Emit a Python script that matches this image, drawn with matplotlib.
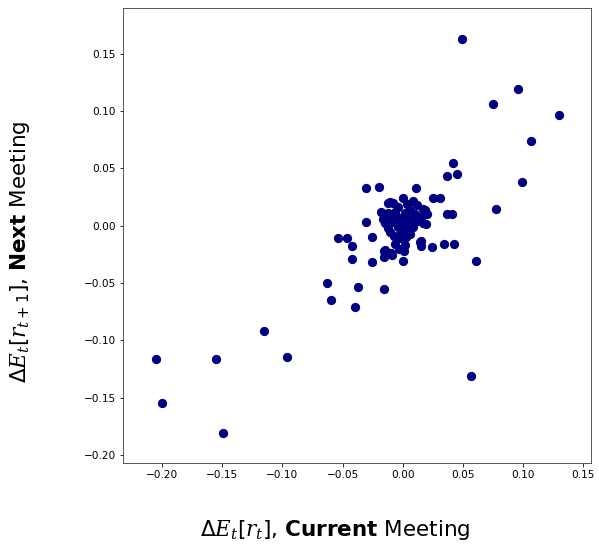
import numpy as np
import matplotlib
matplotlib.use('Agg')
import matplotlib.pyplot as plt

# change in expected rate: current meeting (x) vs next meeting (y)
cur_outer = [0.0496, 0.0962, 0.0754, 0.130, 0.107, 0.0416, 0.0369, 0.0452, 0.0996,
             -0.0305, -0.020, 0.0114, 0.025, 0.0313, 0.0774, -0.012, -0.0078,
             0.0366, 0.0408, -0.0305, 0.0194, -0.0535, -0.0466, -0.0419, -0.0258,
             0.015, 0.015, 0.0241, 0.0344, 0.043, -0.0419, -0.0258, -0.0153, -0.0153,
             -0.0092, 0.000, 0.0613, -0.0627, -0.0374, -0.0153, -0.0593, -0.0397,
             -0.115, -0.0965, -0.2055, -0.1556, 0.0566, -0.200, -0.1498]
nxt_outer = [0.163, 0.119, 0.106, 0.097, 0.074, 0.0547, 0.0436, 0.0451, 0.0378,
             0.0326, 0.034, 0.0326, 0.0241, 0.0241, 0.0145, 0.0195, 0.0195,
             0.0099, 0.0105, 0.0035, 0.0012, -0.011, -0.011, -0.0175, -0.0099,
             -0.013, -0.0175, -0.0183, -0.016, -0.016, -0.0294, -0.032, -0.0218, -0.027,
             -0.0256, -0.0305, -0.0305, -0.0503, -0.0538, -0.055, -0.0649, -0.071,
             -0.0916, -0.1149, -0.116, -0.116, -0.1309, -0.155, -0.1806]

cur_core = [0.000, 0.0089, -0.0106, 0.004, 0.012, 0.0172, 0.0205, -0.0177, -0.004,
            0.006, 0.0186, -0.012, -0.006, 0.002, 0.010, 0.015, -0.016, -0.009,
            -0.002, 0.005, 0.012, -0.0147, -0.007, 0.000, 0.007, 0.0171, -0.012,
            -0.004, 0.003, 0.0088, -0.0106, -0.001, 0.006, -0.007, -0.0022, 0.003,
            0.0144, 0.0019, -0.006, -0.0147, -0.003, 0.001, -0.010]
nxt_core = [0.024, 0.0215, 0.021, 0.019, 0.018, 0.0145, 0.0099, 0.0122, 0.016,
            0.014, 0.0137, 0.011, 0.012, 0.011, 0.010, 0.008, 0.006, 0.007,
            0.007, 0.006, 0.004, 0.002, 0.003, 0.002, 0.001, 0.002, -0.002,
            -0.001, -0.003, -0.001, -0.0052, -0.006, -0.007, -0.009, -0.011, -0.010,
            -0.014, -0.0168, -0.016, -0.0212, -0.020, -0.022, -0.024]

cur = np.array(cur_outer + cur_core)
nxt = np.array(nxt_outer + nxt_core)

plt.rcParams['mathtext.fontset'] = 'custom'
plt.rcParams['mathtext.rm'] = 'DejaVu Sans'
plt.rcParams['mathtext.bf'] = 'DejaVu Sans:bold'
plt.rcParams['mathtext.it'] = 'DejaVu Serif:italic'

fig = plt.figure(figsize=(599/72, 547/72), dpi=72)
ax = fig.add_axes([0.2053, 0.1536, 0.7813, 0.8318])
ax.scatter(cur, nxt, s=68, color='navy')
ax.set_xlim(-0.2327, 0.1567)
ax.set_ylim(-0.207, 0.19)
ax.set_xticks(np.arange(-0.20, 0.151, 0.05))
ax.set_yticks(np.arange(-0.20, 0.151, 0.05))
ax.tick_params(labelsize=10.5)
for s in ax.spines.values():
    s.set_color('#333333')

ax.set_xlabel(r'$\Delta E_t[r_t]$, $\mathbf{Current}$ Meeting', fontsize=21.5, va='center')
ax.set_ylabel(r'$\Delta E_t[r_{t+1}]$, $\mathbf{Next}$ Meeting', fontsize=21.5, va='center')
ax.xaxis.set_label_coords(0.453, -0.147)
ax.yaxis.set_label_coords(-0.220, 0.4637)

plt.savefig('out.png', dpi=72)
